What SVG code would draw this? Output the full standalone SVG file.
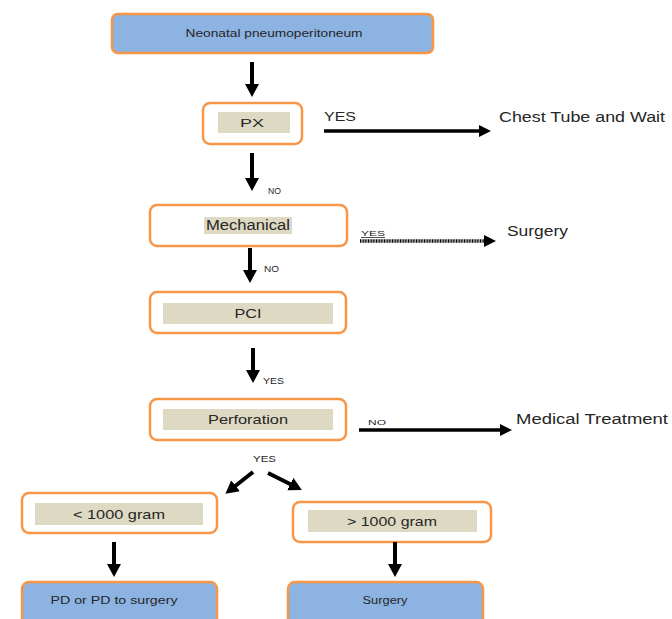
<svg xmlns="http://www.w3.org/2000/svg" width="672" height="619" viewBox="0 0 672 619">
<style>
.box{fill:#ffffff;stroke:#f79646;stroke-width:2.5}
.blue{fill:#8db3e2;stroke:#f79646;stroke-width:2.5}
.hl{fill:#ddd9c3}
.t{font-family:"Liberation Sans",Arial,sans-serif;fill:#262626;text-anchor:middle}
.lab{font-family:"Liberation Sans",Arial,sans-serif;fill:#262626}
.c{stroke:#000;stroke-width:4;fill:none;marker-end:url(#ah)}
.h{stroke:#000;stroke-width:3.5;fill:none;marker-end:url(#ah2)}
</style>
<defs>
<marker id="ah" markerUnits="userSpaceOnUse" markerWidth="16" markerHeight="16" refX="2" refY="8" orient="auto">
<path d="M0,1 L13,8 L0,15 Z" fill="#000"/>
</marker>
<marker id="ah2" markerUnits="userSpaceOnUse" markerWidth="16" markerHeight="16" refX="2" refY="8" orient="auto">
<path d="M0,2 L12,8 L0,14 Z" fill="#000"/>
</marker>
</defs>
<rect width="672" height="619" fill="#fff"/>

<g id="n-neonatal">
<rect class="blue" x="112" y="14" width="321" height="39" rx="6"/>
<text class="t" x="274" y="37" font-size="10" textLength="177" lengthAdjust="spacingAndGlyphs">Neonatal pneumoperitoneum</text>
</g>
<g id="n-px">
<rect class="box" x="203" y="103" width="99" height="41" rx="7"/>
<rect class="hl" x="218" y="112" width="72" height="21"/>
<text class="t" x="252" y="127" font-size="11" textLength="24" lengthAdjust="spacingAndGlyphs">PX</text>
</g>
<g id="n-chest">
<text class="lab" x="499" y="122" font-size="14" textLength="166" lengthAdjust="spacingAndGlyphs">Chest Tube and Wait</text>
</g>
<g id="n-mechanical">
<rect class="box" x="150" y="205" width="197" height="41" rx="7"/>
<rect class="hl" x="204" y="217" width="88" height="17"/>
<text class="t" x="248" y="230" font-size="14" textLength="84" lengthAdjust="spacingAndGlyphs">Mechanical</text>
</g>
<g id="n-surgery1">
<text class="lab" x="507" y="236" font-size="14" textLength="61" lengthAdjust="spacingAndGlyphs">Surgery</text>
</g>
<g id="n-pci">
<rect class="box" x="150" y="292" width="196" height="41" rx="7"/>
<rect class="hl" x="163" y="303" width="170" height="21"/>
<text class="t" x="248" y="318" font-size="12" textLength="27" lengthAdjust="spacingAndGlyphs">PCI</text>
</g>
<g id="n-perforation">
<rect class="box" x="150" y="399" width="196" height="41" rx="7"/>
<rect class="hl" x="163" y="409" width="170" height="21"/>
<text class="t" x="248" y="424" font-size="13" textLength="80" lengthAdjust="spacingAndGlyphs">Perforation</text>
</g>
<g id="n-medical">
<text class="lab" x="516" y="424" font-size="14" textLength="152" lengthAdjust="spacingAndGlyphs">Medical Treatment</text>
</g>
<g id="n-lt1000">
<rect class="box" x="22" y="493" width="195" height="40" rx="7"/>
<rect class="hl" x="35" y="503" width="168" height="22"/>
<text class="t" x="119" y="519" font-size="13" textLength="92" lengthAdjust="spacingAndGlyphs">&lt; 1000 gram</text>
</g>
<g id="n-gt1000">
<rect class="box" x="293" y="502" width="198" height="40" rx="7"/>
<rect class="hl" x="308" y="510" width="169" height="22"/>
<text class="t" x="392" y="526" font-size="13" textLength="90" lengthAdjust="spacingAndGlyphs">&gt; 1000 gram</text>
</g>
<g id="n-pd">
<rect class="blue" x="22" y="582" width="195" height="50" rx="7"/>
<text class="t" x="114" y="604" font-size="10" textLength="127" lengthAdjust="spacingAndGlyphs">PD or PD to surgery</text>
</g>
<g id="n-surgery2">
<rect class="blue" x="288" y="582" width="195" height="50" rx="7"/>
<text class="t" x="385" y="604" font-size="10" textLength="45" lengthAdjust="spacingAndGlyphs">Surgery</text>
</g>

<g id="connectors">
<line class="c" x1="252" y1="62" x2="252" y2="86"/>
<line class="h" x1="324" y1="131" x2="481" y2="131"/>
<line class="c" x1="252" y1="153" x2="252" y2="180"/>
<line class="h" x1="360" y1="241" x2="486" y2="241" stroke-dasharray="1 0.6"/>
<line class="c" x1="250" y1="248" x2="250" y2="272"/>
<line class="c" x1="253" y1="348" x2="253" y2="372"/>
<line class="h" x1="359" y1="430" x2="502" y2="430"/>
<line class="c" x1="253" y1="472" x2="234" y2="487"/>
<line class="c" x1="268" y1="473" x2="292" y2="485"/>
<line class="c" x1="114" y1="542" x2="114" y2="566"/>
<line class="c" x1="395" y1="542" x2="395" y2="566"/>
<text class="lab" x="324" y="121" font-size="12" textLength="32" lengthAdjust="spacingAndGlyphs">YES</text>
<text class="lab" x="268" y="194" font-size="9" textLength="13" lengthAdjust="spacingAndGlyphs">NO</text>
<text class="lab" x="361" y="236" font-size="8" text-decoration="underline" textLength="24" lengthAdjust="spacingAndGlyphs">YES</text>
<text class="lab" x="264" y="272" font-size="9" textLength="15" lengthAdjust="spacingAndGlyphs">NO</text>
<text class="lab" x="263" y="384" font-size="9" textLength="21" lengthAdjust="spacingAndGlyphs">YES</text>
<text class="lab" x="368" y="425" font-size="8" textLength="18" lengthAdjust="spacingAndGlyphs">NO</text>
<text class="lab" x="253" y="462" font-size="9" textLength="23" lengthAdjust="spacingAndGlyphs">YES</text>
</g>
</svg>
